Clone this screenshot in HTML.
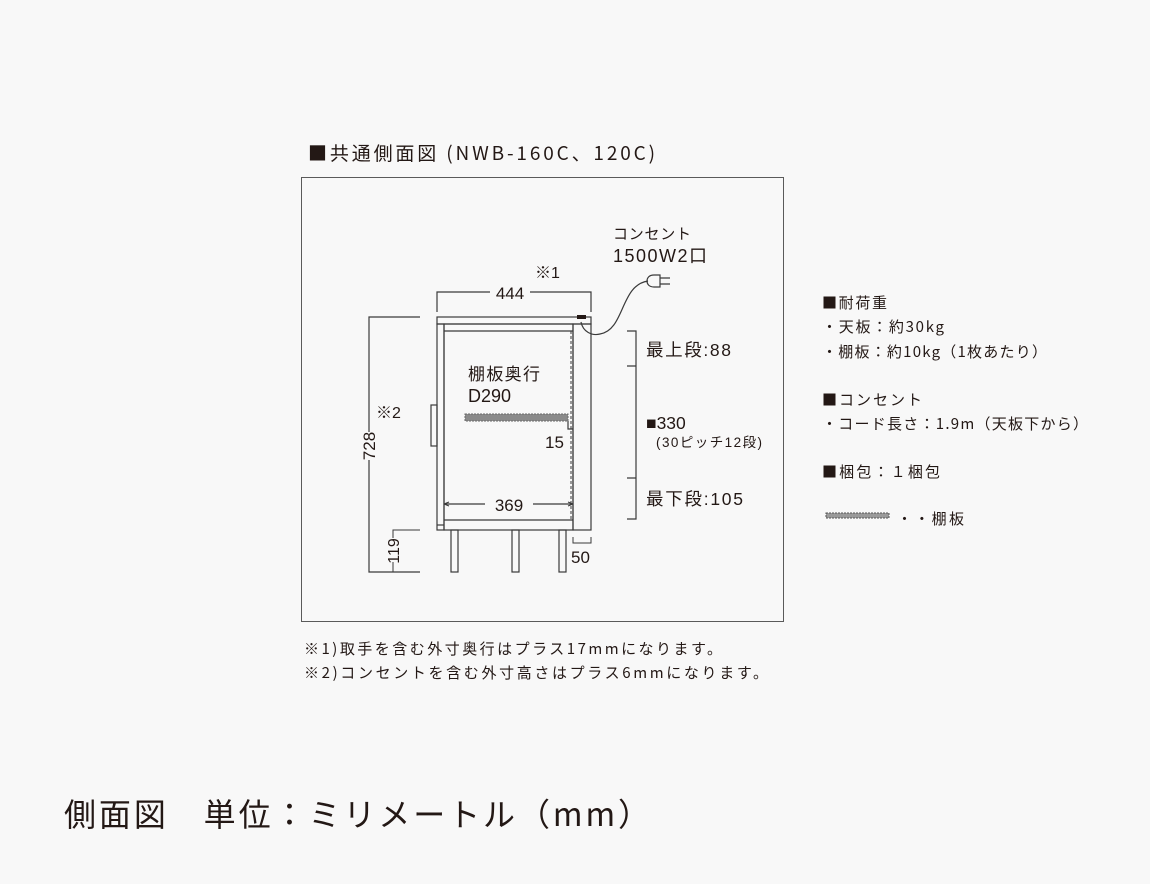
<!DOCTYPE html>
<html><head><meta charset="utf-8"><style>
body{margin:0;width:1150px;height:884px;background:#f8f8f8;overflow:hidden;position:relative;font-family:"Noto Sans CJK JP",sans-serif;color:#231815}
</style></head><body>
<svg width="1150" height="884" style="position:absolute;left:0;top:0" font-family="Liberation Sans, Noto Sans CJK JP, sans-serif" fill="#231815">
<text x="308" y="160" font-size="19" font-family="Noto Sans CJK JP, sans-serif" textLength="347" lengthAdjust="spacing">■共通側面図 (NWB-160C、120C)</text>
<rect x="301.5" y="177.5" width="482" height="444" fill="none" stroke="#5a5a5a" stroke-width="1"/>
<g stroke="#3a3a3a" stroke-width="1.2" fill="none">
<path d="M437 312V292H490M530 292H591V312"/>
<rect x="437" y="317" width="154" height="7" fill="#f8f8f8"/>
<rect x="437" y="324" width="7" height="206"/>
<rect x="444" y="324" width="129" height="206"/>
<line x1="444" y1="331" x2="573" y2="331"/>
<line x1="444" y1="520" x2="573" y2="520"/>
<line x1="437" y1="525" x2="444" y2="525"/>
<rect x="573" y="324" width="18" height="206"/>
<line x1="571" y1="331" x2="571" y2="520" stroke-dasharray="3,2" stroke-width="1"/>
<rect x="431" y="405" width="6" height="41"/>
<rect x="451" y="530" width="7" height="42"/>
<rect x="512" y="530" width="7" height="42"/>
<rect x="559" y="530" width="7" height="42"/>
<path d="M445 504H485M533 504H572"/>
<path d="M568 421V429H573"/>
<path d="M420 317H369V432M369 460V572H420"/>
<path d="M420 530H393V538M393 562V572H420" stroke-width="1"/>
<path d="M573 537V543H591V537" stroke-width="1"/>
<path d="M627 331H636V519H627M627 366H636M627 478H636"/>
<path d="M581 322C583 332 592 336 600 334C625 330 620 285 648 281"/>
<path d="M660 275H654C649 275 647 278 647 281C647 284 649 287 654 287H660Z"/>
<path d="M660 278H670M660 284H670"/>
</g>
<rect x="577" y="315" width="9" height="4" fill="#231815"/>
<g stroke="#3a3a3a" stroke-width="1" fill="none"><line x1="444" y1="504" x2="449" y2="502"/><line x1="444" y1="504" x2="449" y2="506"/><line x1="573" y1="504" x2="568" y2="502"/><line x1="573" y1="504" x2="568" y2="506"/></g>
<rect x="465" y="414" width="103" height="7" fill="#8a8a8a" stroke="#6a6a6a" stroke-dasharray="2,1"/>
<rect x="826" y="513" width="63" height="5" fill="#9a9a9a" stroke="#555" stroke-width="1" stroke-dasharray="2,1"/>
<g font-size="17">
<text x="510" y="299" text-anchor="middle">444</text>
<text x="509" y="511" text-anchor="middle">369</text>
<text x="545" y="448">15</text>
<text x="571" y="563">50</text>
<text x="468" y="380" textLength="72" lengthAdjust="spacing">棚板奥行</text>
<text x="468" y="402" font-size="18">D290</text>
<text x="376" y="418" font-size="16">※2</text>
<text x="535" y="278" font-size="16">※1</text>
<text transform="translate(375 446) rotate(-90)" text-anchor="middle">728</text>
<text transform="translate(399 551) rotate(-90)" text-anchor="middle" font-size="16">119</text>
<text x="613" y="239" font-size="15" textLength="78" lengthAdjust="spacing">コンセント</text>
<text x="613" y="262" font-size="18" textLength="94" lengthAdjust="spacing">1500W2口</text>
<text x="646" y="356" font-size="17.5" textLength="85" lengthAdjust="spacing">最上段:88</text>
<text x="646" y="429" font-size="17.5">■330</text>
<text x="656" y="447" font-size="13.5" textLength="106" lengthAdjust="spacing">(30ピッチ12段)</text>
<text x="646" y="505" font-size="17.5" textLength="97" lengthAdjust="spacing">最下段:105</text>
</g>
<g font-size="15" font-family="Noto Sans CJK JP, sans-serif">
<text x="822" y="308" textLength="65" lengthAdjust="spacing">■耐荷重</text>
<text x="822" y="332" textLength="122" lengthAdjust="spacing">・天板：約30kg</text>
<text x="822" y="357" textLength="225" lengthAdjust="spacing">・棚板：約10kg（1枚あたり）</text>
<text x="822" y="405" textLength="100" lengthAdjust="spacing">■コンセント</text>
<text x="822" y="429" textLength="266" lengthAdjust="spacing">・コード長さ：1.9m（天板下から）</text>
<text x="822" y="477" textLength="118" lengthAdjust="spacing">■梱包：１梱包</text>
<text x="897" y="524" textLength="67" lengthAdjust="spacing">・・棚板</text>
<text x="304" y="654" textLength="418" lengthAdjust="spacing">※1)取手を含む外寸奥行はプラス17mmになります。</text>
<text x="304" y="678" textLength="464" lengthAdjust="spacing">※2)コンセントを含む外寸高さはプラス6mmになります。</text>
</g>
<text x="64" y="826" font-size="32" font-family="Noto Sans CJK JP, sans-serif" textLength="586" lengthAdjust="spacing">側面図　単位：ミリメートル（mm）</text>
</svg>
</body></html>
